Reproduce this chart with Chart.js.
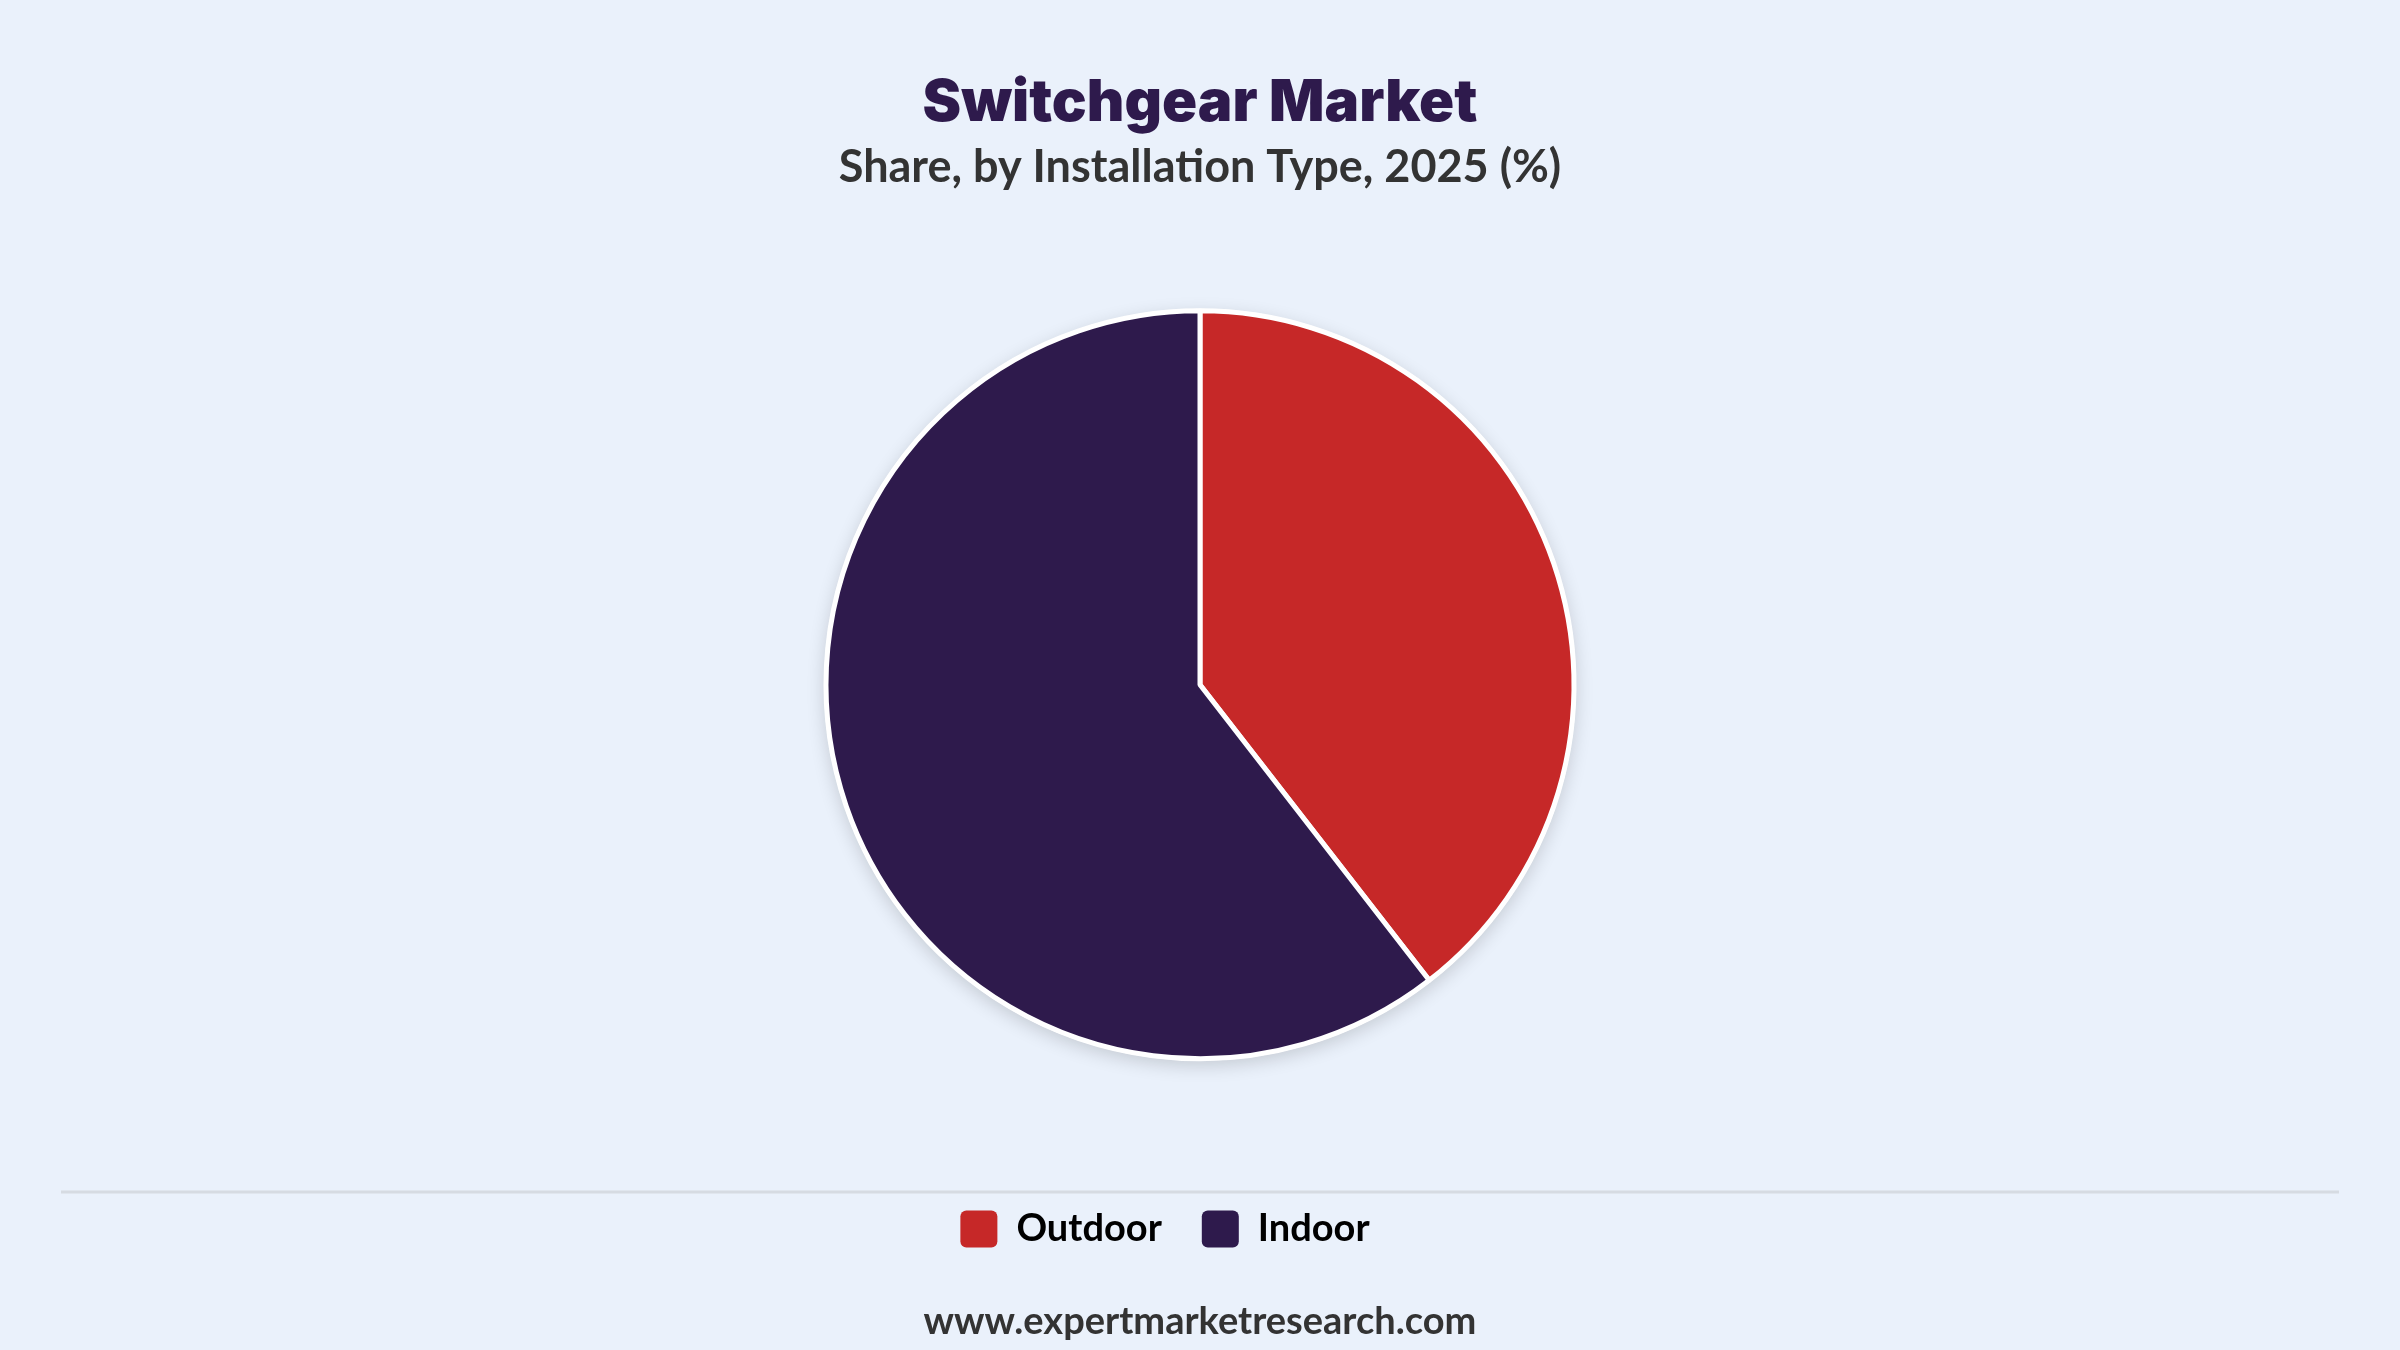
<!DOCTYPE html>
<html>
<head>
<meta charset="utf-8">
<title>Switchgear Market</title>
<script src="https://cdn.jsdelivr.net/npm/chart.js@4.4.1/dist/chart.umd.min.js"></script>
<style>
  html, body { margin: 0; padding: 0; background: #eaf1fb; }
  #wrap { width: 2400px; height: 1350px; position: relative; }
</style>
</head>
<body>
<div id="wrap"><canvas id="shareChart"></canvas></div>
<script>
// data
const categories = ['Outdoor', 'Indoor'];
const shareValues = [39.5, 60.5];
const sliceColors = ['#c62828', '#2e1a4c'];

const titleText = 'Switchgear Market';
const subtitleText = 'Share, by Installation Type, 2025 (%)';
const sourceText = 'www.expertmarketresearch.com';

const FONT = 'Lato, "Open Sans", sans-serif';
const TITLE_FONT = 'Inter, "Noto Sans", sans-serif';

// soft shadow under the pie
const pieShadow = {
  id: 'pieShadow',
  beforeDatasetsDraw(chart) {
    const arc = chart.getDatasetMeta(0).data[0];
    if (!arc) return;
    const ctx = chart.ctx;
    ctx.save();
    ctx.shadowColor = 'rgba(0,0,0,0.16)';
    ctx.shadowBlur = 18;
    ctx.shadowOffsetY = 5;
    ctx.beginPath();
    ctx.arc(arc.x, arc.y, arc.outerRadius + 2, 0, Math.PI * 2);
    ctx.fillStyle = '#ffffff';
    ctx.fill();
    ctx.restore();
  }
};

// the legend sits a little left of centre in the original
const legendNudge = {
  id: 'legendNudge',
  afterLayout(chart) {
    chart.legend.left -= 35;
    chart.legend.right -= 35;
  }
};

// separator line above the legend + source line under it
const footer = {
  id: 'footer',
  afterDraw(chart) {
    const ctx = chart.ctx;
    const lg = chart.legend;
    ctx.save();
    ctx.strokeStyle = '#d6dbe2';
    ctx.lineWidth = 3;
    ctx.beginPath();
    ctx.moveTo(61, lg.top + 22);
    ctx.lineTo(2339, lg.top + 22);
    ctx.stroke();
    ctx.fillStyle = '#333333';
    ctx.font = '700 38px ' + FONT;
    ctx.textAlign = 'center';
    ctx.textBaseline = 'middle';
    ctx.fillText(sourceText, chart.width / 2, lg.bottom + 64);
    ctx.restore();
  }
};

new Chart(document.getElementById('shareChart'), {
  type: 'pie',
  data: {
    labels: categories,
    datasets: [{
      data: shareValues,
      backgroundColor: sliceColors,
      borderColor: '#ffffff',
      borderWidth: 5,
      radius: 374
    }]
  },
  options: {
    responsive: true,
    maintainAspectRatio: false,
    devicePixelRatio: 1,
    animation: false,
    layout: { padding: { bottom: 92 } },
    plugins: {
      title: {
        display: true,
        text: titleText,
        color: '#2e1a4c',
        font: { family: TITLE_FONT, size: 58, weight: '900' },
        padding: { top: 69, bottom: 0 }
      },
      subtitle: {
        display: true,
        text: subtitleText,
        color: '#333333',
        font: { family: FONT, size: 45, weight: '700' },
        padding: { top: 2, bottom: 5 }
      },
      legend: {
        position: 'bottom',
        labels: {
          color: '#111111',
          font: { family: FONT, size: 38, weight: '700' },
          boxWidth: 37,
          boxHeight: 37,
          useBorderRadius: true,
          borderRadius: 6,
          padding: 40,
          generateLabels(chart) {
            return chart.data.labels.map((label, i) => ({
              text: label,
              fillStyle: sliceColors[i],
              strokeStyle: sliceColors[i],
              lineWidth: 0,
              borderRadius: 6,
              index: i,
              hidden: !chart.getDataVisibility(i)
            }));
          }
        }
      },
      tooltip: { enabled: false }
    }
  },
  plugins: [pieShadow, legendNudge, footer]
});
</script>
</body>
</html>
